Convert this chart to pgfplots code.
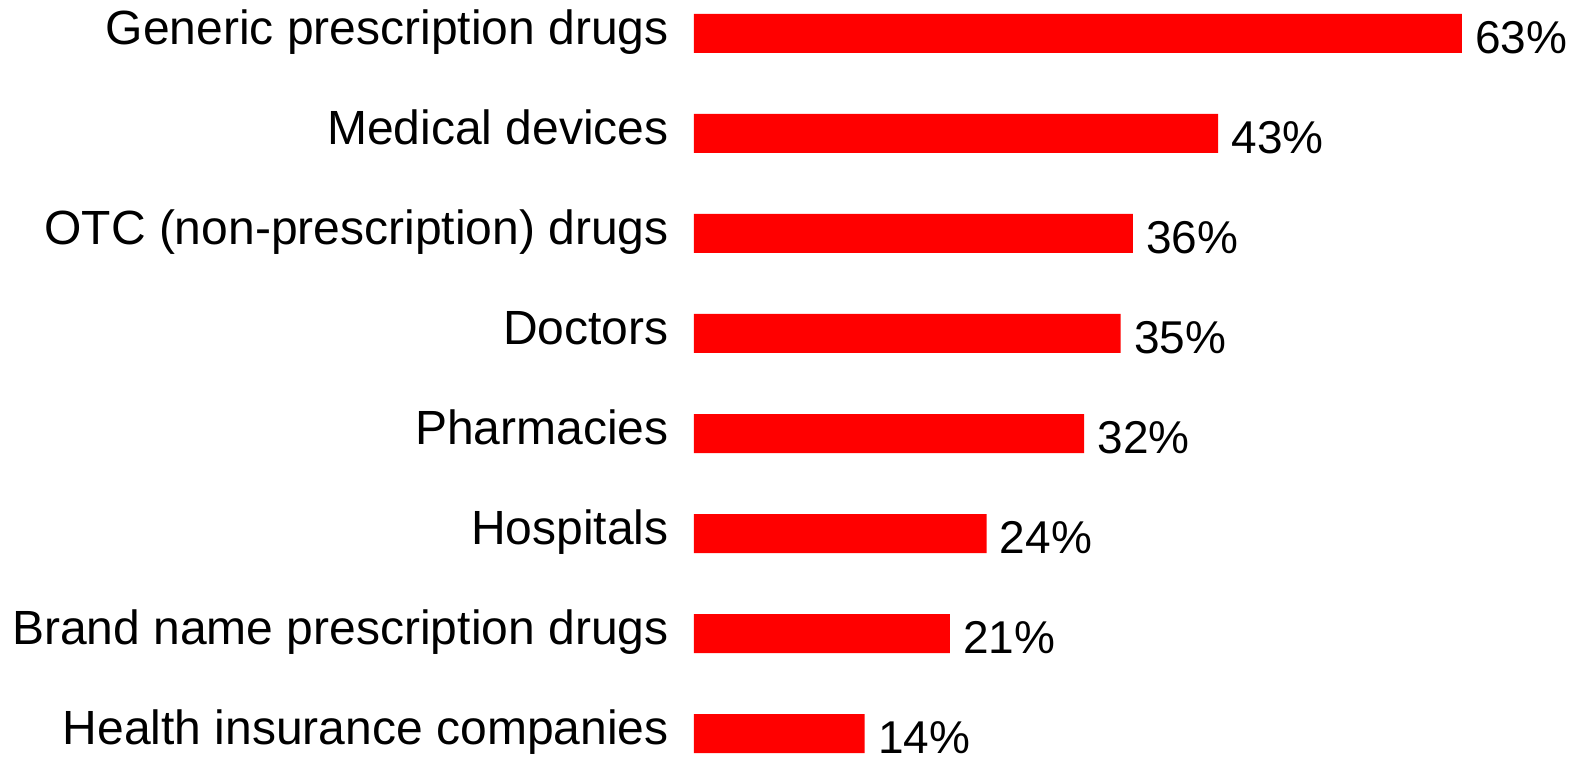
\documentclass[border=0pt]{standalone}
\usepackage{pgfplots}
\usepackage{pgfplotstable}
\pgfplotsset{compat=1.18}
\usepackage{fontspec}
\setmainfont{Liberation Sans}

% share of respondents per category (bottom to top)
\pgfplotstableread{
idx value
0 14
1 21
2 24
3 32
4 35
5 36
6 43
7 63
}\survey

\begin{document}
\begin{tikzpicture}
\path[use as bounding box] (0,0) rectangle (789.5pt,378pt);
\begin{axis}[
  at={(347pt,-13.75pt)}, anchor=south west,
  x=6.095pt, y=50pt,
  xmin=0, xmax=70, ymin=-0.5, ymax=7.5,
  xbar, bar width=19.5pt,
  axis line style={draw=none},
  xtick=\empty,
  ytick={0,...,7},
  yticklabels={Health insurance companies, Brand name prescription drugs, Hospitals, Pharmacies, Doctors, OTC (non-prescription) drugs, Medical devices, Generic prescription drugs},
  major tick length=0pt,
  /pgf/number format/assume math mode=true,
  yticklabel style={font=\fontsize{24pt}{28pt}\selectfont, anchor=east, inner sep=0pt, xshift=-12.5pt, yshift=-3pt, text height=0.73em, text depth=0.21em},
  nodes near coords={\pgfmathprintnumber{\pgfplotspointmeta}\%},
  nodes near coords style={font=\fontsize{23pt}{28pt}\selectfont, anchor=west, inner sep=0pt, xshift=6.5pt, yshift=-2pt},
  clip=false,
]
\addplot[fill=red, draw=none] table[x=value, y=idx] {\survey};
\end{axis}
\end{tikzpicture}
\end{document}
